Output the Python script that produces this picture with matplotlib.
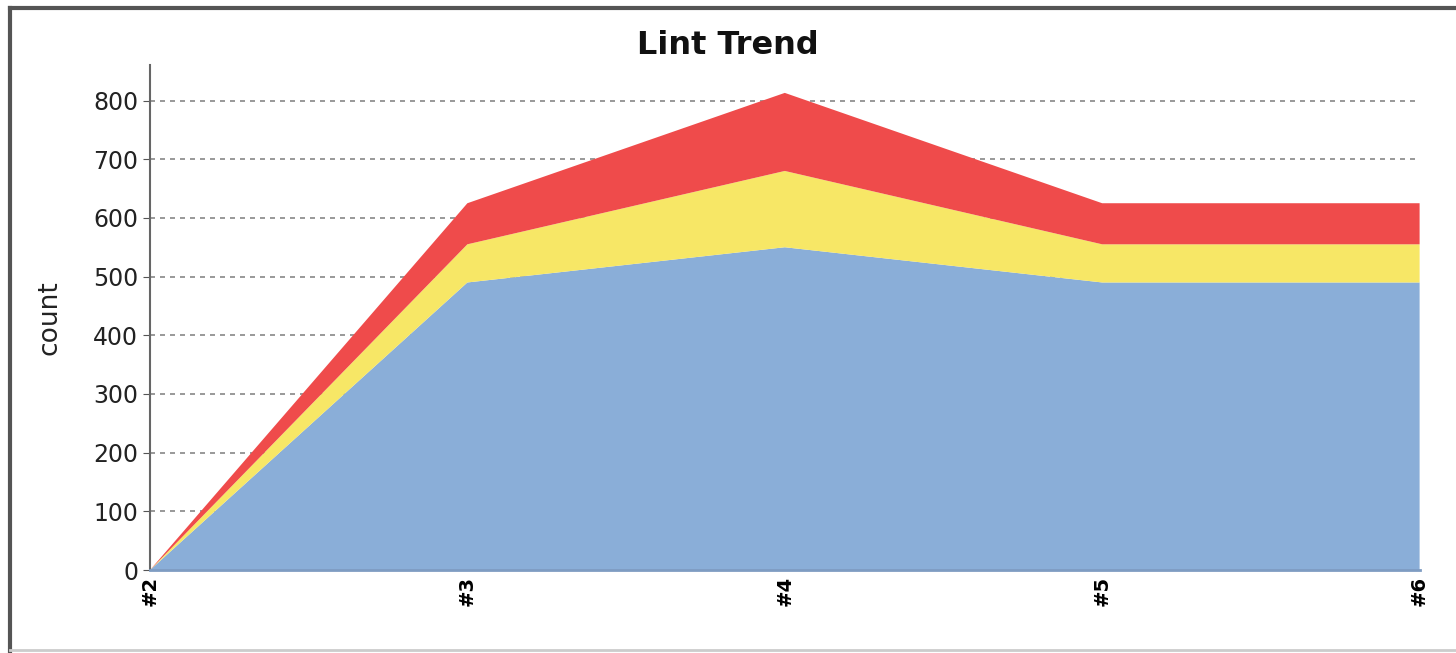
import matplotlib
matplotlib.use("Agg")
import matplotlib.pyplot as plt

# Lint warnings per build, stacked by priority
builds = ["#2", "#3", "#4", "#5", "#6"]
normal = [0, 490, 550, 490, 490]
high = [0, 65, 130, 65, 65]
critical = [0, 70, 133, 70, 70]

colors = ["#8aaed8", "#f7e766", "#ef4b4b"]

fig = plt.figure(figsize=(14.56, 6.53), dpi=100)
ax = fig.add_axes([0.103, 0.127, 0.872, 0.773])

x = list(range(len(builds)))
ax.stackplot(x, normal, high, critical, colors=colors, linewidth=0)

ax.set_xlim(0, len(builds) - 1)
ax.set_ylim(0, 860)
ax.set_yticks(range(0, 900, 100))
ax.set_xticks(x)
ax.set_xticklabels(builds, rotation=90, fontsize=14, fontweight="bold")
ax.tick_params(axis="y", labelsize=17, length=5, color="#555555", labelcolor="#222222")
ax.tick_params(axis="x", length=0, pad=4)

ax.set_axisbelow(True)
ax.yaxis.grid(True, linestyle=(0, (3, 3)), color="#888888", linewidth=1.2)

for side in ["top", "right"]:
    ax.spines[side].set_visible(False)
ax.spines["left"].set_color("#666666")
ax.spines["left"].set_linewidth(1.5)
ax.spines["bottom"].set_color("#7e9cc2")
ax.spines["bottom"].set_linewidth(2)

ax.set_ylabel("count", fontsize=19, labelpad=22, color="#222222")
fig.text(0.5, 0.93, "Lint Trend", ha="center", va="center",
         fontsize=23, fontweight="bold", color="#111111")

# Outer frame: dark on left/top, light on bottom
fig.add_artist(plt.Line2D([0.007, 0.007], [0.0, 0.988], transform=fig.transFigure,
                          color="#555555", linewidth=3))
fig.add_artist(plt.Line2D([0.007, 1.0], [0.988, 0.988], transform=fig.transFigure,
                          color="#555555", linewidth=3))
fig.add_artist(plt.Line2D([0.007, 1.0], [0.005, 0.005], transform=fig.transFigure,
                          color="#cccccc", linewidth=2))

fig.savefig("out.png", dpi=100)
